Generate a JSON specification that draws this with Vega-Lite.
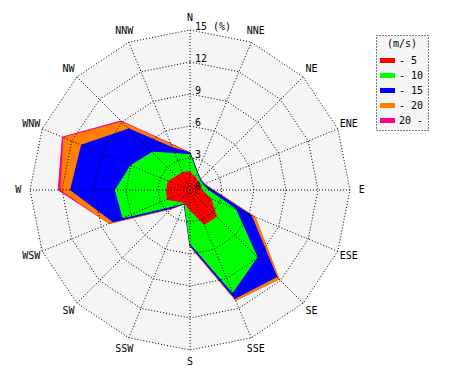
{
  "$schema": "https://vega.github.io/schema/vega-lite/v6.json",
  "width": 320,
  "height": 320,
  "autosize": {"type": "none"},
  "padding": {"left": 30, "top": 30, "right": 120, "bottom": 30},
  "background": "white",
  "config": {
    "view": {"stroke": null},
    "font": "DejaVu Sans Mono",
    "legend": {"strokeColor": "black", "strokeDash": [1, 2], "fillColor": "#f5f5f5", "padding": 4}
  },
  "datasets": {
    "wind": [
      {"d": "N", "k": 0, "lt5": 1.7, "lt10": 3.3, "lt15": 3.5, "lt20": 3.5, "ge20": 3.5},
      {"d": "NNE", "k": 1, "lt5": 1.3, "lt10": 1.7, "lt15": 1.8, "lt20": 1.8, "ge20": 1.8},
      {"d": "NE", "k": 2, "lt5": 1.1, "lt10": 1.3, "lt15": 1.4, "lt20": 1.4, "ge20": 1.4},
      {"d": "ENE", "k": 3, "lt5": 1.0, "lt10": 1.3, "lt15": 1.4, "lt20": 1.5, "ge20": 1.5},
      {"d": "E", "k": 4, "lt5": 1.1, "lt10": 1.7, "lt15": 2.1, "lt20": 2.2, "ge20": 2.2},
      {"d": "ESE", "k": 5, "lt5": 2.1, "lt10": 4.6, "lt15": 6.2, "lt20": 6.6, "ge20": 6.6},
      {"d": "SE", "k": 6, "lt5": 3.5, "lt10": 8.9, "lt15": 11.5, "lt20": 11.8, "ge20": 11.8},
      {"d": "SSE", "k": 7, "lt5": 3.5, "lt10": 10.4, "lt15": 11.0, "lt20": 11.2, "ge20": 11.2},
      {"d": "S", "k": 8, "lt5": 1.9, "lt10": 5.0, "lt15": 5.2, "lt20": 5.3, "ge20": 5.3},
      {"d": "SSW", "k": 9, "lt5": 1.3, "lt10": 1.3, "lt15": 1.4, "lt20": 1.4, "ge20": 1.4},
      {"d": "SW", "k": 10, "lt5": 1.5, "lt10": 2.1, "lt15": 2.4, "lt20": 2.5, "ge20": 2.5},
      {"d": "WSW", "k": 11, "lt5": 2.3, "lt10": 6.8, "lt15": 7.8, "lt20": 8.2, "ge20": 8.2},
      {"d": "W", "k": 12, "lt5": 2.2, "lt10": 7.0, "lt15": 11.2, "lt20": 12.1, "ge20": 12.35},
      {"d": "WNW", "k": 13, "lt5": 2.2, "lt10": 6.0, "lt15": 11.0, "lt20": 12.8, "ge20": 12.95},
      {"d": "NW", "k": 14, "lt5": 1.8, "lt10": 5.0, "lt15": 8.1, "lt20": 9.0, "ge20": 9.15},
      {"d": "NNW", "k": 15, "lt5": 1.8, "lt10": 3.7, "lt15": 4.3, "lt20": 4.6, "ge20": 4.7}
    ],
    "dirs": [
      {"d": "N", "k": 0}, {"d": "NNE", "k": 1}, {"d": "NE", "k": 2}, {"d": "ENE", "k": 3},
      {"d": "E", "k": 4}, {"d": "ESE", "k": 5}, {"d": "SE", "k": 6}, {"d": "SSE", "k": 7},
      {"d": "S", "k": 8}, {"d": "SSW", "k": 9}, {"d": "SW", "k": 10}, {"d": "WSW", "k": 11},
      {"d": "W", "k": 12}, {"d": "WNW", "k": 13}, {"d": "NW", "k": 14}, {"d": "NNW", "k": 15}
    ],
    "rings": [
      {"r": 3, "k": [0, 1, 2, 3, 4, 5, 6, 7, 8, 9, 10, 11, 12, 13, 14, 15]},
      {"r": 6, "k": [0, 1, 2, 3, 4, 5, 6, 7, 8, 9, 10, 11, 12, 13, 14, 15]},
      {"r": 9, "k": [0, 1, 2, 3, 4, 5, 6, 7, 8, 9, 10, 11, 12, 13, 14, 15]},
      {"r": 12, "k": [0, 1, 2, 3, 4, 5, 6, 7, 8, 9, 10, 11, 12, 13, 14, 15]},
      {"r": 15, "k": [0, 1, 2, 3, 4, 5, 6, 7, 8, 9, 10, 11, 12, 13, 14, 15]}
    ],
    "ticks": [
      {"r": 0, "t": "0"}, {"r": 3, "t": "3"}, {"r": 6, "t": "6"},
      {"r": 9, "t": "9"}, {"r": 12, "t": "12"}, {"r": 15, "t": "15 (%)"}
    ]
  },
  "layer": [
    {
      "data": {"name": "dirs"},
      "transform": [
        {"calculate": "15*sin(datum.k*PI/8)", "as": "x"},
        {"calculate": "15*cos(datum.k*PI/8)", "as": "y"}
      ],
      "mark": {"type": "line", "interpolate": "linear-closed", "fill": "#f5f5f5", "strokeWidth": 0},
      "encoding": {
        "x": {"field": "x", "type": "quantitative", "scale": {"domain": [-15, 15], "nice": false, "zero": false}, "axis": null},
        "y": {"field": "y", "type": "quantitative", "scale": {"domain": [-15, 15], "nice": false, "zero": false}, "axis": null},
        "order": {"field": "k", "type": "quantitative"}
      }
    },
    {
      "data": {"name": "wind"},
      "transform": [
        {"fold": ["ge20", "lt20", "lt15", "lt10", "lt5"], "as": ["c", "v"]},
        {"calculate": "datum.v*sin(datum.k*PI/8)", "as": "x"},
        {"calculate": "datum.v*cos(datum.k*PI/8)", "as": "y"}
      ],
      "mark": {"type": "line", "interpolate": "linear-closed", "strokeWidth": 1},
      "encoding": {
        "x": {"field": "x", "type": "quantitative", "scale": {"domain": [-15, 15], "nice": false, "zero": false}, "axis": null},
        "y": {"field": "y", "type": "quantitative", "scale": {"domain": [-15, 15], "nice": false, "zero": false}, "axis": null},
        "order": {"field": "k", "type": "quantitative"},
        "stroke": {
          "field": "c",
          "type": "nominal",
          "scale": {"domain": ["lt5", "lt10", "lt15", "lt20", "ge20"], "range": ["#ff0000", "#00ff00", "#0000ff", "#ff8000", "#ff0080"]},
          "legend": null
        },
        "fill": {
          "field": "c",
          "type": "nominal",
          "scale": {"domain": ["lt5", "lt10", "lt15", "lt20", "ge20"], "range": ["#ff0000", "#00ff00", "#0000ff", "#ff8000", "#ff0080"]},
          "legend": {
            "title": "(m/s)",
            "orient": "none",
            "legendX": 346,
            "legendY": 5,
            "titleAnchor": "middle",
            "titleFont": "DejaVu Sans Mono",
            "titleFontSize": 10,
            "titleFontWeight": "normal",
            "titleColor": "black",
            "titlePadding": 4,
            "labelFont": "DejaVu Sans Mono",
            "labelFontSize": 10,
            "labelColor": "black",
            "labelOffset": 4,
            "labelExpr": "datum.label == 'lt5' ? '- 5\u00a0\u00a0\u00a0\u00a0' : datum.label == 'lt10' ? '- 10\u00a0\u00a0\u00a0' : datum.label == 'lt15' ? '- 15\u00a0\u00a0\u00a0' : datum.label == 'lt20' ? '- 20\u00a0\u00a0\u00a0' : '20 -\u00a0\u00a0\u00a0'",
            "symbolType": "M-1,-0.33H1V0.33H-1Z",
            "symbolSize": 225,
            "symbolStrokeWidth": 0,
            "rowPadding": 2
          }
        }
      }
    },
    {
      "data": {"name": "rings"},
      "transform": [
        {"flatten": ["k"]},
        {"calculate": "datum.r*sin(datum.k*PI/8)", "as": "x"},
        {"calculate": "datum.r*cos(datum.k*PI/8)", "as": "y"}
      ],
      "mark": {"type": "line", "interpolate": "linear-closed", "stroke": "black", "strokeWidth": 1, "strokeDash": [1, 2]},
      "encoding": {
        "x": {"field": "x", "type": "quantitative", "scale": {"domain": [-15, 15], "nice": false, "zero": false}, "axis": null},
        "y": {"field": "y", "type": "quantitative", "scale": {"domain": [-15, 15], "nice": false, "zero": false}, "axis": null},
        "order": {"field": "k", "type": "quantitative"},
        "detail": {"field": "r", "type": "nominal"}
      }
    },
    {
      "data": {"name": "dirs"},
      "transform": [
        {"calculate": "15*sin(datum.k*PI/8)", "as": "x"},
        {"calculate": "15*cos(datum.k*PI/8)", "as": "y"}
      ],
      "mark": {"type": "rule", "stroke": "black", "strokeWidth": 1, "strokeDash": [1, 2]},
      "encoding": {
        "x": {"field": "x", "type": "quantitative", "scale": {"domain": [-15, 15], "nice": false, "zero": false}, "axis": null},
        "y": {"field": "y", "type": "quantitative", "scale": {"domain": [-15, 15], "nice": false, "zero": false}, "axis": null},
        "x2": {"datum": 0},
        "y2": {"datum": 0}
      }
    },
    {
      "data": {"name": "dirs"},
      "transform": [
        {"calculate": "16.1*sin(datum.k*PI/8)", "as": "x"},
        {"calculate": "16.1*cos(datum.k*PI/8)", "as": "y"}
      ],
      "mark": {"type": "text", "font": "DejaVu Sans Mono", "fontSize": 10, "color": "black", "align": "center", "baseline": "middle"},
      "encoding": {
        "x": {"field": "x", "type": "quantitative", "scale": {"domain": [-15, 15], "nice": false, "zero": false}, "axis": null},
        "y": {"field": "y", "type": "quantitative", "scale": {"domain": [-15, 15], "nice": false, "zero": false}, "axis": null},
        "text": {"field": "d"}
      }
    },
    {
      "data": {"name": "ticks"},
      "mark": {"type": "text", "font": "DejaVu Sans Mono", "fontSize": 10, "color": "black", "align": "left", "baseline": "alphabetic", "dx": 5},
      "encoding": {
        "x": {"datum": 0, "type": "quantitative", "scale": {"domain": [-15, 15], "nice": false, "zero": false}},
        "y": {"field": "r", "type": "quantitative", "scale": {"domain": [-15, 15], "nice": false, "zero": false}, "axis": null},
        "text": {"field": "t"}
      }
    }
  ]
}
